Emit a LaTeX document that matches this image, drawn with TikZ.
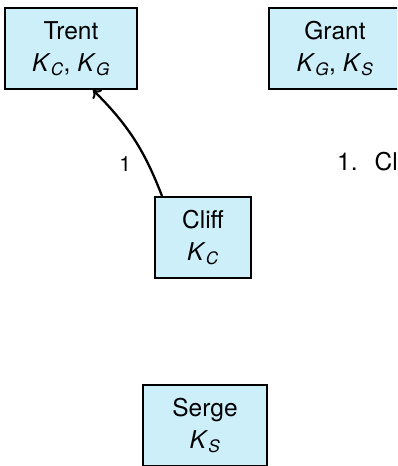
\documentclass[tikz,border=0pt]{standalone}
\usepackage{amsmath}
\usepackage{fontspec}
\setmainfont{TeX Gyre Heros}
\usetikzlibrary{arrows.meta}
\definecolor{boxfill}{RGB}{205,239,250}
\newcommand{\kk}[1]{\textit{K}$_{\textit{#1}}$}
\tikzset{
  person/.style={draw=black, line width=2pt, fill=boxfill, rectangle,
    minimum height=81pt, inner xsep=0pt, inner ysep=0pt, align=center,
    font=\fontsize{24.5}{32}\selectfont},
  msg/.style={line width=2.3pt, -{To[length=7pt,width=13pt,line width=2pt]}},
  msglabel/.style={font=\fontsize{21}{24}\selectfont, inner sep=0pt},
  steptext/.style={font=\fontsize{24.5}{28}\selectfont, inner sep=0pt, anchor=base west}
}
\begin{document}
\begin{tikzpicture}[x=1pt,y=1pt]
\useasboundingbox (0,0) rectangle (397,-466);
\clip (0,0) rectangle (397,-466);
\node[person, minimum width=132pt] (trent) at (71,-48.5) {Trent\\\kk{C}, \kk{G}};
\node[person, minimum width=132pt] (grant) at (335,-48.5) {Grant\\\kk{G}, \kk{S}};
\node[person, minimum width=96pt] (cliff) at (203,-237.5) {Cliff\\\kk{C}};
\node[person, minimum width=124pt] (serge) at (205,-425.5) {Serge\\\kk{S}};
\draw[msg] ([xshift=8pt]cliff.north west) to[bend right=12]
  node[msglabel, pos=0.26, left=16pt] (lbl) {1} ([xshift=22pt]trent.south);
\node[steptext] (step1) at (337,-170) {1.\hspace{17pt}Cl};
\end{tikzpicture}
\end{document}
